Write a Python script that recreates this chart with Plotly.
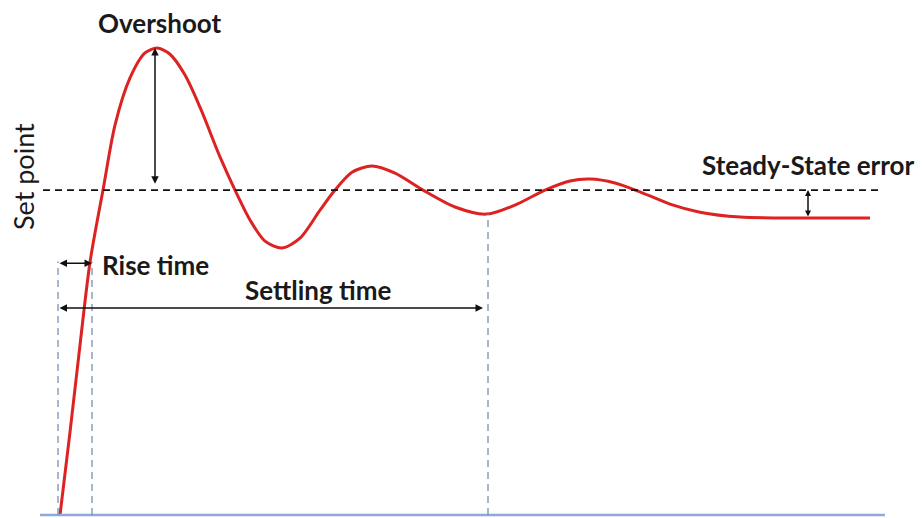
import plotly.graph_objects as go

# Step response (time units, response relative to set point = 1)
time = [0.0, 0.2, 0.4, 0.6, 0.86, 1.1, 1.4, 1.7, 1.94, 2.2, 2.5, 2.8, 3.2, 3.5, 3.8, 4.1,
        4.44, 4.8, 5.2, 5.5, 5.84, 6.24, 6.7, 7.26, 7.9, 8.52, 9.1, 9.7, 10.2, 10.6, 11.1,
        11.56, 12.2, 12.8, 13.6, 14.8, 16.2]
response = [0.0, 0.255, 0.523, 0.778, 1.0, 1.2, 1.345, 1.422, 1.437, 1.418, 1.354, 1.255,
            1.102, 1.0, 0.908, 0.843, 0.822, 0.852, 0.938, 1.0, 1.055, 1.074, 1.052, 1.0,
            0.948, 0.926, 0.954, 1.0, 1.028, 1.034, 1.022, 0.997, 0.957, 0.932, 0.917,
            0.914, 0.914]

set_point = 1.0
peak_time = 1.9
peak_value = 1.437
steady_value = 0.914
rise_start = -0.04
rise_end = 0.64
settling_end = 8.56
error_time = 14.96
axis_start = -0.4
axis_end = 16.5

labels = {
    "overshoot": "Overshoot",
    "rise": "Rise time",
    "settling": "Settling time",
    "error": "Steady-State error",
    "setpoint": "Set point",
}

fig = go.Figure()

fig.add_trace(go.Scatter(x=time, y=response, mode="lines",
                         line=dict(color="#dd2222", width=3, shape="spline", smoothing=0.8),
                         hoverinfo="skip", showlegend=False))

shapes = []
# baseline
shapes.append(dict(type="line", x0=axis_start, x1=axis_end, y0=0, y1=0,
                   line=dict(color="#8eaadb", width=2.5)))
# set point dashed line
shapes.append(dict(type="line", x0=axis_start + 0.06, x1=axis_end - 0.06, y0=set_point, y1=set_point,
                   line=dict(color="#111111", width=1.6, dash="7px,5px")))
# vertical dashed markers
for xv, ytop in [(rise_start, 0.78), (rise_end, 0.78), (settling_end, 0.926)]:
    shapes.append(dict(type="line", x0=xv, x1=xv, y0=0, y1=ytop,
                       line=dict(color="#7a8fae", width=1.3, dash="7px,5px")))
fig.update_layout(shapes=shapes)

def dbl_arrow(x0, y0, x1, y1, size=1.0):
    fig.add_annotation(x=x1, y=y1, ax=x0, ay=y0, xref="x", yref="y", axref="x", ayref="y",
                       text="", showarrow=True, arrowhead=2, startarrowhead=2,
                       arrowside="end+start", arrowsize=size, startarrowsize=size,
                       arrowwidth=1.5, arrowcolor="#111111")

dbl_arrow(peak_time, set_point + 0.015, peak_time, peak_value)
dbl_arrow(rise_start, 0.775, rise_end, 0.775)
dbl_arrow(rise_start, 0.637, settling_end - 0.1, 0.637)
dbl_arrow(error_time, steady_value, error_time, set_point, size=0.8)

font_b = dict(family="Lato, 'Open Sans', sans-serif", size=26, color="#1a1a1a")
fig.add_annotation(x=2.0, y=1.514, text="<b>" + labels["overshoot"] + "</b>", showarrow=False,
                   font=font_b, xanchor="center", yanchor="middle")
fig.add_annotation(x=0.8, y=0.769, text="<b>" + labels["rise"] + "</b>", showarrow=False,
                   font=font_b, xanchor="left", yanchor="middle")
fig.add_annotation(x=5.16, y=0.692, text="<b>" + labels["settling"] + "</b>", showarrow=False,
                   font=font_b, xanchor="center", yanchor="middle")
fig.add_annotation(x=14.96, y=1.077, text="<b>" + labels["error"] + "</b>", showarrow=False,
                   font=font_b, xanchor="center", yanchor="middle")
fig.add_annotation(x=-0.74, y=1.04, text=labels["setpoint"], showarrow=False, textangle=-90,
                   font=dict(family="Lato, 'Open Sans', sans-serif", size=27, color="#1a1a1a"),
                   xanchor="center", yanchor="middle")

fig.update_layout(
    width=924, height=518,
    margin=dict(l=0, r=0, t=0, b=0),
    paper_bgcolor="white", plot_bgcolor="white",
    xaxis=dict(range=[-1.2, 17.28], visible=False, fixedrange=True),
    yaxis=dict(range=[-0.00923, 1.585], visible=False, fixedrange=True),
    showlegend=False,
)

fig.write_html("out.html", config={"displayModeBar": False},
               post_script="document.body.style.margin='0';document.body.style.overflow='hidden';")
